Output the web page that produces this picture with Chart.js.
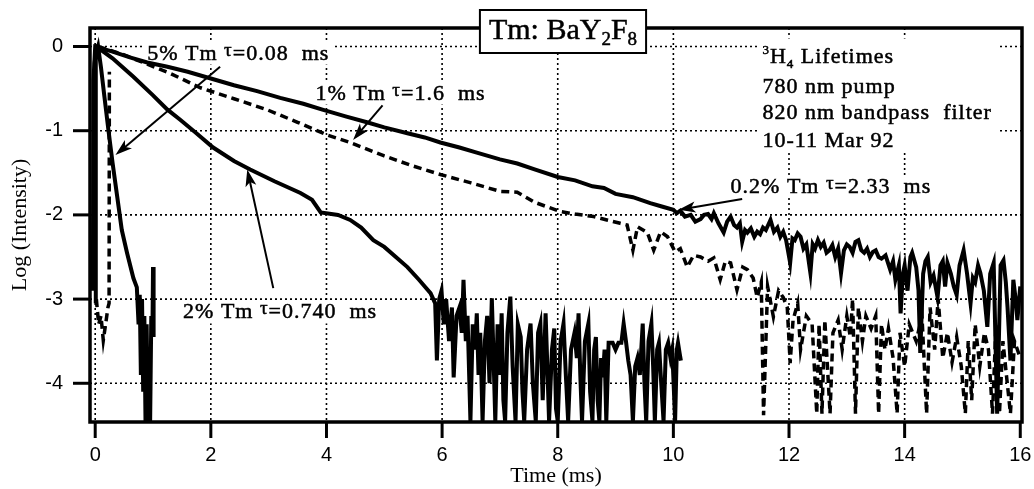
<!DOCTYPE html>
<html>
<head>
<meta charset="utf-8">
<title>Tm: BaY2F8 3H4 lifetimes</title>
<script src="https://cdn.jsdelivr.net/npm/chart.js@4.4.1/dist/chart.umd.min.js"></script>
<style>
  html, body { margin: 0; padding: 0; background: #fff; }
  #wrap { width: 1034px; height: 489px; }
</style>
</head>
<body>
<div id="wrap"><canvas id="decay" width="1034" height="489"></canvas></div>
<script>
// axis ticks
const timeTicks = [0, 2, 4, 6, 8, 10, 12, 14, 16];
const logTicks = [0, -1, -2, -3, -4];

// decay traces, [time (ms), log intensity]
const tm02 = [[-0.04,-2.9],[-0.03,-0.4],[0.0,0.0],[0.3,-0.06],[0.6,-0.13],[0.9,-0.19],[1.25,-0.24],[1.6,-0.3],[2.0,-0.38],[2.4,-0.46],[2.8,-0.53],[3.2,-0.61],[3.6,-0.68],[3.93,-0.75],[4.33,-0.83],[4.7,-0.9],[5.0,-0.96],[5.4,-1.03],[5.7,-1.08],[5.97,-1.14],[6.3,-1.2],[6.6,-1.26],[7.0,-1.34],[7.3,-1.39],[7.6,-1.46],[8.0,-1.55],[8.3,-1.59],[8.6,-1.66],[8.8,-1.68],[9.0,-1.75],[9.3,-1.79],[9.6,-1.86],[9.8,-1.9],
  [10.0,-1.94],[10.06,-1.98],[10.12,-1.95],[10.2,-2.02],[10.3,-2.0],[10.38,-2.08],[10.47,-2.05],[10.53,-2.0],[10.6,-1.99],[10.66,-2.05],[10.7,-1.98],[10.78,-2.1],[10.87,-2.21],[10.93,-2.08],[10.99,-2.02],[11.05,-2.12],[11.1,-2.15],[11.15,-2.1],[11.19,-2.32],[11.24,-2.18],[11.28,-2.21],[11.34,-2.16],[11.4,-2.26],[11.45,-2.2],[11.5,-2.23],[11.55,-2.15],[11.6,-2.18],[11.64,-2.12],[11.68,-2.06],[11.74,-2.2],[11.8,-2.15],[11.85,-2.26],[11.9,-2.2],[11.95,-2.3],
  [12.02,-2.57],[12.06,-2.28],[12.1,-2.3],[12.15,-2.22],[12.2,-2.26],[12.25,-2.4],[12.3,-2.35],[12.37,-2.69],[12.41,-2.35],[12.45,-2.4],[12.5,-2.3],[12.55,-2.38],[12.6,-2.33],[12.65,-2.45],[12.7,-2.42],[12.75,-2.36],[12.8,-2.5],[12.85,-2.4],[12.9,-2.69],[12.95,-2.42],[13.0,-2.35],[13.05,-2.38],[13.1,-2.45],[13.15,-2.32],[13.2,-2.3],[13.25,-2.42],[13.3,-2.45],[13.35,-2.4],[13.4,-2.5],[13.45,-2.44],[13.5,-2.42],[13.55,-2.5],[13.6,-2.52],[13.67,-2.48],[13.75,-2.65],[13.8,-2.55],[13.84,-2.77],[13.9,-2.6],[13.93,-3.17],[13.97,-2.7],
  [14.0,-2.6],[14.05,-2.9],[14.1,-2.5],[14.13,-2.45],[14.2,-2.62],[14.24,-2.9],[14.27,-3.64],[14.32,-2.7],[14.36,-2.55],[14.4,-2.5],[14.45,-2.8],[14.5,-2.72],[14.57,-2.98],[14.62,-2.6],[14.66,-2.55],[14.7,-2.85],[14.74,-2.57],[14.8,-2.7],[14.85,-2.85],[14.9,-2.95],[14.95,-2.6],[15.02,-2.42],[15.08,-2.7],[15.14,-3.05],[15.18,-2.75],[15.22,-2.8],[15.27,-2.6],[15.31,-2.69],[15.37,-2.9],[15.43,-3.33],[15.48,-2.7],[15.54,-2.57],[15.6,-4.36],[15.66,-2.6],[15.71,-2.54],[15.75,-2.8],[15.78,-3.1],[15.83,-3.73],[15.88,-2.77],[15.92,-3.0],[15.95,-3.25],[16.0,-2.85]];

const tm1Pre = [[0.02,-3.0],[0.06,-3.3],[0.1,-3.2],[0.14,-3.49],[0.18,-3.3],[0.22,-3.1],[0.24,-3.05],[0.245,-0.3]];

const tm1 = [[0.05,0],[0.5,-0.1],[0.9,-0.21],[1.3,-0.32],[1.82,-0.49],[2.4,-0.62],[2.97,-0.75],[3.5,-0.9],[4.01,-1.05],[4.41,-1.14],[5.0,-1.3],[5.5,-1.42],[5.97,-1.52],[6.5,-1.62],[7.0,-1.72],[7.3,-1.73],[7.6,-1.85],[8.04,-1.96],[8.3,-1.99],[8.62,-2.02],[8.85,-2.06],[9.08,-2.1],[9.2,-2.12],[9.3,-2.42],[9.38,-2.14],[9.55,-2.21],[9.66,-2.42],[9.78,-2.2],[9.9,-2.26],[10.03,-2.44],[10.12,-2.4],[10.24,-2.62],[10.35,-2.48],[10.47,-2.5],[10.6,-2.55],[10.7,-2.51],[10.81,-2.77],[10.9,-2.55],[10.99,-2.57],[11.1,-2.89],[11.2,-2.62],[11.28,-2.65],[11.38,-2.75],[11.45,-2.98],[11.52,-2.8],[11.56,-4.38],[11.63,-2.85],[11.73,-3.21],[11.82,-2.9],[11.9,-2.98],[11.97,-3.1],
  [12.02,-3.76],[12.07,-3.25],[12.15,-3.05],[12.2,-3.6],[12.3,-3.2],[12.4,-3.3],[12.48,-4.36],[12.52,-3.3],[12.57,-4.36],[12.62,-3.25],[12.71,-4.36],[12.76,-3.4],[12.85,-3.25],[12.92,-3.6],[13.0,-3.2],[13.06,-3.45],[13.1,-3.0],[13.15,-4.36],[13.2,-3.1],[13.27,-3.5],[13.33,-3.2],[13.42,-3.35],[13.5,-3.2],[13.55,-4.36],[13.6,-3.3],[13.66,-3.6],[13.72,-3.35],[13.8,-3.7],[13.87,-4.36],[13.92,-3.4],
  [14.0,-3.8],[14.08,-3.3],[14.2,-3.5],[14.3,-3.2],[14.38,-4.36],[14.44,-3.1],[14.52,-3.6],[14.58,-3.0],[14.66,-3.7],[14.74,-3.4],[14.82,-3.75],[14.9,-3.45],[14.98,-3.8],[15.05,-4.36],[15.1,-3.5],[15.16,-4.2],[15.22,-3.3],[15.3,-3.8],[15.38,-3.4],[15.45,-3.6],[15.52,-4.36],[15.58,-3.3],[15.64,-4.36],[15.7,-3.5],[15.76,-3.9],[15.83,-4.36],[15.9,-3.5],[16.0,-3.7]];

const tm2 = [[-0.02,-2.6],[-0.01,-0.2],[0.02,0],[0.3,-0.14],[0.66,-0.36],[1.0,-0.58],[1.25,-0.75],[1.47,-0.87],[1.75,-1.03],[2.04,-1.2],[2.4,-1.36],[2.68,-1.46],[3.1,-1.6],[3.55,-1.74],[3.75,-1.82],[3.9,-1.97],[4.2,-2.0],[4.41,-2.06],[4.6,-2.15],[4.81,-2.3],[5.0,-2.38],[5.2,-2.5],[5.4,-2.62],[5.6,-2.77],[5.7,-2.85],[5.8,-2.93],
  [5.88,-3.05],[5.91,-3.73],[5.95,-3.0],[5.99,-2.9],[6.03,-3.3],[6.07,-3.0],[6.12,-3.5],[6.17,-3.1],[6.2,-3.93],[6.25,-3.2],[6.3,-3.1],[6.34,-3.4],[6.37,-2.77],[6.41,-3.5],[6.44,-3.2],[6.49,-4.45],[6.53,-3.3],[6.57,-3.6],[6.6,-3.17],[6.63,-3.9],[6.66,-3.4],[6.7,-4.45],[6.74,-3.5],[6.78,-3.2],[6.82,-4.0],[6.86,-2.99],[6.89,-3.7],[6.92,-4.45],[6.96,-3.3],
  [7.0,-3.9],[7.03,-3.17],[7.06,-4.2],[7.09,-4.45],[7.13,-3.4],[7.18,-2.97],[7.22,-3.8],[7.27,-4.45],[7.31,-3.3],[7.36,-3.45],[7.39,-4.1],[7.42,-4.45],[7.47,-3.6],[7.53,-3.29],[7.57,-4.0],[7.62,-4.45],[7.66,-3.4],[7.7,-3.29],[7.74,-4.2],[7.79,-3.17],[7.82,-3.8],[7.85,-4.45],[7.9,-3.6],[7.94,-3.35],[7.97,-4.3],
  [8.0,-4.45],[8.05,-3.5],[8.1,-3.29],[8.14,-3.9],[8.18,-4.45],[8.23,-3.6],[8.29,-3.4],[8.33,-3.7],[8.36,-3.17],[8.39,-3.9],[8.42,-4.45],[8.47,-3.5],[8.53,-3.29],[8.56,-4.1],[8.6,-4.45],[8.63,-3.6],[8.66,-3.45],[8.69,-4.2],[8.72,-4.45],[8.75,-3.7],[8.78,-3.93],[8.81,-3.6],[8.84,-4.45],[8.88,-3.52],[8.95,-3.52],
  [9.0,-3.6],[9.05,-3.52],[9.1,-3.52],[9.14,-3.29],[9.18,-3.5],[9.22,-3.73],[9.26,-3.9],[9.3,-4.45],[9.34,-3.8],[9.38,-3.7],[9.42,-3.9],[9.47,-3.29],[9.5,-4.0],[9.53,-4.45],[9.57,-3.5],[9.62,-3.29],[9.65,-3.8],[9.68,-4.45],[9.72,-3.6],[9.75,-3.52],[9.79,-4.0],[9.83,-4.45],[9.87,-3.6],[9.91,-3.52],[9.95,-3.7],[9.98,-3.6],
  [10.01,-4.1],[10.03,-4.45],[10.06,-3.6],[10.08,-3.52],[10.11,-3.65],[10.13,-3.73]];

const tm5 = [[0.0,-3.05],[0.01,-0.1],[0.05,0],[0.1,-0.25],[0.16,-0.6],[0.23,-1.0],[0.3,-1.38],[0.38,-1.78],[0.46,-2.18],[0.55,-2.45],[0.66,-2.75],[0.72,-2.86],[0.75,-3.3],[0.77,-2.95],[0.79,-3.9],[0.81,-3.0],[0.83,-4.1],[0.85,-3.2],[0.87,-4.45],[0.89,-3.3],[0.91,-4.45],[0.93,-3.6],[0.95,-4.45],[0.97,-3.2],[0.99,-3.4],[1.0,-2.62],[1.01,-3.45]];

// curve labels: text runs [text, size factor, baseline shift] placed in data units
const notes = [
  { runs: [['5% Tm '], ['τ', 0.85, -4], ['=0.08  ms']], at: [0.9, -0.155] },
  { runs: [['1% Tm '], ['τ', 0.85, -4], ['=1.6  ms']], at: [3.81, -0.63] },
  { runs: [['2% Tm '], ['τ', 0.85, -4], ['=0.740  ms']], at: [1.52, -3.23] },
  { runs: [['0.2% Tm '], ['τ', 0.85, -4], ['=2.33  ms']], at: [10.99, -1.74] }
];
const infoX = 11.54;
const infoLines = [
  { runs: [['3', 0.6, -9], ['H'], ['4', 0.6, 5], [' Lifetimes']], y: -0.19 },
  { runs: [['780 nm pump']], y: -0.55 },
  { runs: [['820 nm bandpass  filter']], y: -0.86 },
  { runs: [['10-11 Mar 92']], y: -1.19 }
];
const arrows = [
  { from: [2.16, -0.24], to: [0.35, -1.29] },
  { from: [4.97, -0.70], to: [4.46, -1.11] },
  { from: [3.08, -2.87], to: [2.63, -1.46] },
  { from: [11.19, -1.81], to: [10.09, -1.94] }
];
const titleRuns = [['Tm: BaY'], ['2', 0.62, 6], ['F'], ['8', 0.62, 6]];

const SERIF = "'Liberation Serif', 'Times New Roman', serif";
const SANS = "'Liberation Sans', Arial, sans-serif";
const NOTE_SIZE = 22;

const toPts = arr => arr.map(([t, v]) => ({ x: t, y: v }));

// draws text pieces left to right (sub/superscripts via size and shift)
function drawRuns(ctx, runs, x, y, size, measureOnly) {
  let cx = x;
  runs.forEach(([txt, scale = 1, dy = 0]) => {
    ctx.font = Math.round(size * scale) + 'px ' + SERIF;
    if (!measureOnly) {
      ctx.fillText(txt, cx, y + dy);
      ctx.strokeText(txt, cx, y + dy);
    }
    cx += ctx.measureText(txt).width;
  });
  return cx - x;
}

function line(ctx, x1, y1, x2, y2) {
  ctx.beginPath();
  ctx.moveTo(x1, y1);
  ctx.lineTo(x2, y2);
  ctx.stroke();
}

function arrow(ctx, x1, y1, x2, y2) {
  const a = Math.atan2(y2 - y1, x2 - x1);
  const len = 17, half = 5.5;
  const c = Math.cos(a), s = Math.sin(a);
  line(ctx, x1, y1, x2 - c * 8, y2 - s * 8);
  ctx.beginPath();
  ctx.moveTo(x2, y2);
  ctx.lineTo(x2 - len * c + half * s, y2 - len * s - half * c);
  ctx.lineTo(x2 - len * 0.75 * c, y2 - len * 0.75 * s);
  ctx.lineTo(x2 - len * c - half * s, y2 - len * s + half * c);
  ctx.closePath();
  ctx.fill();
}

// label boxes in pixels, shared by background patches and text
function noteBoxes(chart) {
  const { ctx, scales: { x, y } } = chart;
  ctx.save();
  ctx.letterSpacing = '1px';
  const boxes = notes.map(n => {
    const px = x.getPixelForValue(n.at[0]);
    const py = y.getPixelForValue(n.at[1]);
    const w = drawRuns(ctx, n.runs, px, py, NOTE_SIZE, true);
    return { runs: n.runs, px, py, x0: px - 4, x1: px + w + 4, y0: py - 18, y1: py + 5 };
  });
  const ix = x.getPixelForValue(infoX);
  const lines = infoLines.map(l => ({ runs: l.runs, px: ix, py: y.getPixelForValue(l.y) }));
  let wmax = 0;
  lines.forEach(l => { wmax = Math.max(wmax, drawRuns(ctx, l.runs, l.px, l.py, NOTE_SIZE, true)); });
  ctx.restore();
  const info = {
    lines,
    x0: ix - 4, x1: ix + wmax + 6,
    y0: lines[0].py - 24, y1: lines[lines.length - 1].py + 4
  };
  return { boxes, info };
}

const decor = {
  id: 'decor',
  beforeDatasetsDraw(chart) {
    const { ctx, chartArea: a, scales: { x, y } } = chart;
    ctx.save();
    // dotted grid
    ctx.strokeStyle = '#000';
    ctx.lineWidth = 1.6;
    ctx.setLineDash([2, 3]);
    timeTicks.forEach(v => {
      const px = x.getPixelForValue(v);
      if (px < a.left + 4 || px > a.right - 4) return;
      line(ctx, px, a.top, px, a.bottom);
    });
    logTicks.forEach(v => {
      const py = y.getPixelForValue(v);
      line(ctx, a.left, py, a.right, py);
    });
    ctx.setLineDash([]);
    // white patches under the labels
    const { boxes, info } = noteBoxes(chart);
    ctx.fillStyle = '#fff';
    boxes.concat([info]).forEach(b => ctx.fillRect(b.x0, b.y0, b.x1 - b.x0, b.y1 - b.y0));
    ctx.restore();
  },
  afterDatasetsDraw(chart) {
    const { ctx, chartArea: a, scales: { x, y } } = chart;
    ctx.save();
    ctx.strokeStyle = '#000';
    ctx.fillStyle = '#000';
    // frame
    ctx.lineWidth = 3.5;
    ctx.strokeRect(a.left, a.top, a.right - a.left, a.bottom - a.top);
    // outward tick marks
    ctx.lineWidth = 3;
    timeTicks.forEach(v => {
      const px = x.getPixelForValue(v);
      line(ctx, px, a.bottom, px, a.bottom + 16);
    });
    logTicks.forEach(v => {
      const py = y.getPixelForValue(v);
      line(ctx, a.left - 17, py, a.left, py);
    });
    // arrows
    ctx.lineWidth = 2;
    arrows.forEach(r => arrow(ctx,
      x.getPixelForValue(r.from[0]), y.getPixelForValue(r.from[1]),
      x.getPixelForValue(r.to[0]), y.getPixelForValue(r.to[1])));
    // labels, with a hairline stroke to thicken the serif glyphs
    const { boxes, info } = noteBoxes(chart);
    ctx.letterSpacing = '1px';
    ctx.textBaseline = 'alphabetic';
    ctx.textAlign = 'left';
    ctx.lineWidth = 0.5;
    boxes.forEach(b => drawRuns(ctx, b.runs, b.px, b.py, NOTE_SIZE, false));
    info.lines.forEach(l => drawRuns(ctx, l.runs, l.px, l.py, NOTE_SIZE, false));
    // boxed title across the top edge
    ctx.letterSpacing = '0px';
    const tw = drawRuns(ctx, titleRuns, 0, 0, 30, true);
    const bw = tw + 18, bh = 43;
    const bx = (a.left + a.right) / 2 + 7 - bw / 2;
    const by = a.top - 18;
    ctx.fillStyle = '#fff';
    ctx.fillRect(bx, by, bw, bh);
    ctx.lineWidth = 2;
    ctx.strokeRect(bx, by, bw, bh);
    ctx.fillStyle = '#000';
    ctx.lineWidth = 0.5;
    drawRuns(ctx, titleRuns, bx + 9, by + 29, 30, false);
    ctx.restore();
  }
};

const lineStyle = { borderColor: '#000', pointRadius: 0, tension: 0, fill: false };

new Chart(document.getElementById('decay'), {
  type: 'line',
  data: {
    datasets: [
      { label: '0.2% Tm', data: toPts(tm02), borderWidth: 4, ...lineStyle },
      { label: '1% Tm', data: toPts(tm1Pre), borderWidth: 3.5, borderDash: [8, 5], ...lineStyle },
      { label: '1% Tm', data: toPts(tm1), borderWidth: 3.5, borderDash: [8, 5], ...lineStyle },
      { label: '2% Tm', data: toPts(tm2), borderWidth: 4, ...lineStyle },
      { label: '5% Tm', data: toPts(tm5), borderWidth: 4, ...lineStyle }
    ]
  },
  options: {
    responsive: false,
    animation: false,
    devicePixelRatio: 1,
    layout: { padding: { top: 28, right: 12, left: 0, bottom: 0 } },
    plugins: { legend: { display: false }, tooltip: { enabled: false } },
    scales: {
      x: {
        type: 'linear',
        min: -0.09,
        max: 16.03,
        afterBuildTicks: s => { s.ticks = timeTicks.map(v => ({ value: v })); },
        afterFit: s => { s.height = 67; s.paddingLeft = 0; s.paddingRight = 0; },
        grid: { display: false, drawTicks: false },
        border: { display: false },
        ticks: { padding: 21, color: '#000', font: { family: SANS, size: 20 }, maxRotation: 0, autoSkip: false },
        title: { display: true, text: 'Time (ms)', color: '#000', font: { family: SERIF, size: 22 }, padding: { top: 0, bottom: 0 } }
      },
      y: {
        type: 'linear',
        min: -4.46,
        max: 0.22,
        afterBuildTicks: s => { s.ticks = logTicks.map(v => ({ value: v })); },
        afterFit: s => { s.width = 90; s.paddingTop = 0; s.paddingBottom = 0; },
        grid: { display: false, drawTicks: false },
        border: { display: false },
        ticks: { padding: 27, color: '#000', font: { family: SANS, size: 20 }, autoSkip: false },
        title: { display: true, text: 'Log (Intensity)', color: '#000', font: { family: SERIF, size: 22 }, padding: { top: 7, bottom: 0 } }
      }
    }
  },
  plugins: [decor]
});
</script>
</body>
</html>
